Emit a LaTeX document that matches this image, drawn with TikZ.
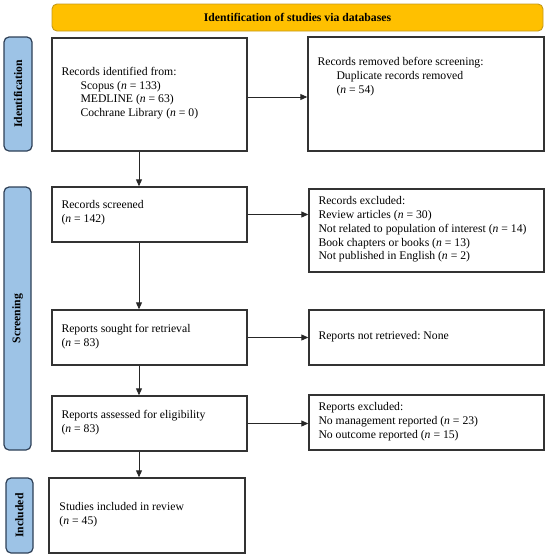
\documentclass[tikz,border=0pt]{standalone}
\usepackage{fontspec}
\setmainfont{Liberation Serif}
\usetikzlibrary{arrows.meta}
\frenchspacing
\definecolor{bannerfill}{HTML}{FFC000}
\definecolor{bannerline}{HTML}{C49A1A}
\definecolor{labfill}{HTML}{9DC3E6}
\definecolor{labline}{HTML}{2E4057}
\definecolor{boxline}{HTML}{333333}
\tikzset{
  every node/.style={font=\fontsize{11.7}{13.7}\selectfont},
  flowbox/.style={draw=boxline, line width=1.4pt, inner sep=0pt},
  boxtext/.style={anchor=west, inner sep=0pt, align=left},
  banner/.style={draw=bannerline, line width=0.9pt, fill=bannerfill, rounded corners=5pt, inner sep=0pt, font=\fontsize{11.7}{13.7}\selectfont\bfseries},
  phase/.style={draw=labline, line width=1.2pt, fill=labfill, rounded corners=5pt, inner sep=0pt, rotate=90, font=\fontsize{11.7}{13.7}\selectfont\bfseries},
  arr/.style={draw=black!85, line width=0.9pt, -{Triangle[length=7pt,width=6pt]}}
}
\newcommand{\nn}{\textit{n}}
\begin{document}
\begin{tikzpicture}[x=1pt,y=-1pt]
\useasboundingbox (0,0) rectangle (550,558);
% banner
\node[banner, minimum width=491pt, minimum height=27pt] (ban) at (297.5,17.5) {Identification of studies via databases};
% phase labels
\node[phase, minimum width=114pt, minimum height=28pt] (lid) at (18,94) {Identification};
\node[phase, minimum width=263pt, minimum height=27pt] (lsc) at (17.5,318.5) {Screening};
\node[phase, minimum width=75pt, minimum height=27pt] (lin) at (19.5,515.5) {Included};
% boxes
\node[flowbox, minimum width=195pt, minimum height=113pt] (b1) at (149.5,94.5) {};
\node[flowbox, minimum width=236pt, minimum height=114pt] (b2) at (426,94) {};
\node[flowbox, minimum width=195pt, minimum height=55pt] (b3) at (149.5,214.5) {};
\node[flowbox, minimum width=235pt, minimum height=83pt] (b4) at (426.5,230.5) {};
\node[flowbox, minimum width=195pt, minimum height=55pt] (b5) at (149.5,337.5) {};
\node[flowbox, minimum width=235pt, minimum height=55pt] (b6) at (426.5,337.5) {};
\node[flowbox, minimum width=195pt, minimum height=55pt] (b7) at (149.5,423.5) {};
\node[flowbox, minimum width=235pt, minimum height=55pt] (b8) at (426.5,422.5) {};
\node[flowbox, minimum width=196pt, minimum height=75pt] (b9) at (147,515.5) {};
% box texts
\node[boxtext] (t1) at ([xshift=10pt,yshift=1.5pt]b1.west)
 {Records identified from:\\\hspace*{19pt}Scopus (\nn{} = 133)\\\hspace*{19pt}MEDLINE (\nn{} = 63)\\\hspace*{19pt}Cochrane Library (\nn{} = 0)};
\node[boxtext, anchor=north west] (t2) at ([xshift=10pt,yshift=-21pt]b2.north west)
 {Records removed before screening:\\\hspace*{19pt}Duplicate records removed\\\hspace*{19pt}(\nn{} = 54)};
\node[boxtext] (t3) at ([xshift=10pt,yshift=1.5pt]b3.west) {Records screened\\(\nn{} = 142)};
\node[boxtext] (t4) at ([xshift=10pt,yshift=1pt]b4.west)
 {Records excluded:\\Review articles (\nn{} = 30)\\Not related to population of interest (\nn{} = 14)\\Book chapters or books (\nn{} = 13)\\Not published in English (\nn{} = 2)};
\node[boxtext] (t5) at ([xshift=10pt,yshift=1pt]b5.west) {Reports sought for retrieval\\(\nn{} = 83)};
\node[boxtext] (t6) at ([xshift=10pt,yshift=1pt]b6.west) {Reports not retrieved: None};
\node[boxtext] (t7) at ([xshift=10pt,yshift=1pt]b7.west) {Reports assessed for eligibility\\(\nn{} = 83)};
\node[boxtext] (t8) at ([xshift=10pt,yshift=1pt]b8.west)
 {Reports excluded:\\No management reported (\nn{} = 23)\\No outcome reported (\nn{} = 15)};
\node[boxtext] (t9) at ([xshift=11pt,yshift=1pt]b9.west) {Studies included in review\\(\nn{} = 45)};
% connectors
\coordinate (ax) at (139,0);
\coordinate (ay) at (0,97);
\draw[arr] (b1.east |- ay) -- (b2.west |- ay);
\draw[arr] (b3.east) -- (b4.west |- b3.east);
\draw[arr] (b5.east) -- (b6.west |- b5.east);
\draw[arr] (b7.east) -- (b8.west |- b7.east);
\draw[arr] (b1.south -| ax) -- (b3.north -| ax);
\draw[arr] (b3.south -| ax) -- (b5.north -| ax);
\draw[arr] (b5.south -| ax) -- (b7.north -| ax);
\draw[arr] (b7.south -| ax) -- (b9.north -| ax);
\end{tikzpicture}
\end{document}
